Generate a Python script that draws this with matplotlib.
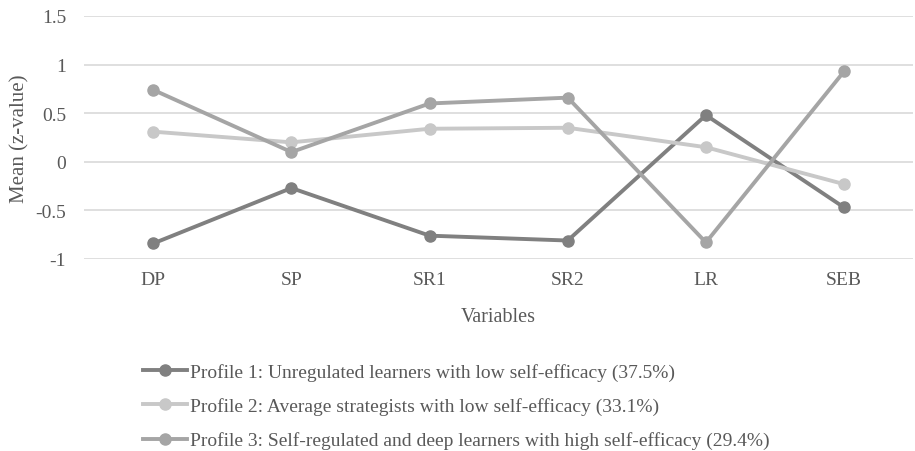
import matplotlib.pyplot as plt

plt.rcParams["font.family"] = ["Liberation Serif", "DejaVu Serif"]

variables = ["DP", "SP", "SR1", "SR2", "LR", "SEB"]
profile1 = [-0.84, -0.27, -0.76, -0.81, 0.48, -0.47]
profile2 = [0.31, 0.20, 0.34, 0.35, 0.15, -0.23]
profile3 = [0.74, 0.10, 0.60, 0.66, -0.83, 0.93]
labels = [
    "Profile 1: Unregulated learners with low self-efficacy (37.5%)",
    "Profile 2: Average strategists with low self-efficacy (33.1%)",
    "Profile 3: Self-regulated and deep learners with high self-efficacy (29.4%)",
]
yticks = [-1, -0.5, 0, 0.5, 1, 1.5]
ytick_labels = ["-1", "-0.5", "0", "0.5", "1", "1.5"]

COLORS = ["#808080", "#c8c8c8", "#a5a5a5"]
TEXT = "#595959"

fig = plt.figure(figsize=(9.15, 4.52), dpi=100)
ax = fig.add_axes([0.092, 0.4248, 0.906, 0.5376])

x = list(range(len(variables)))
for series, color, label in zip((profile1, profile2, profile3), COLORS, labels):
    ax.plot(x, series, color=color, linewidth=2.8, marker="o",
            markersize=8, label=label)

ax.set_xlim(-0.5, len(variables) - 0.5)
ax.set_ylim(-1, 1.5)
ax.set_yticks(yticks)
ax.set_yticklabels(ytick_labels)
ax.set_xticks(x)
ax.set_xticklabels(variables)
ax.tick_params(length=0, labelsize=14, colors=TEXT)
ax.tick_params(axis="x", pad=9)
ax.tick_params(axis="y", pad=13)
ax.grid(axis="y", color="#d9d9d9", linewidth=1.2)
ax.set_axisbelow(True)
for spine in ax.spines.values():
    spine.set_visible(False)

ax.set_xlabel("Variables", fontsize=14.5, color=TEXT, labelpad=13)
ax.set_ylabel("Mean (z-value)", fontsize=15, color=TEXT, labelpad=4)

# legend sits under the axes, left-aligned near the first category
handles, lbls = ax.get_legend_handles_labels()
fig.legend(handles, lbls, loc="upper left", bbox_to_anchor=(0.156, 0.194),
           frameon=False, fontsize=14, labelcolor=TEXT, handlelength=2.3,
           handletextpad=0.15, labelspacing=0.83, borderaxespad=0,
           borderpad=0)

fig.savefig("out.png", dpi=100)
